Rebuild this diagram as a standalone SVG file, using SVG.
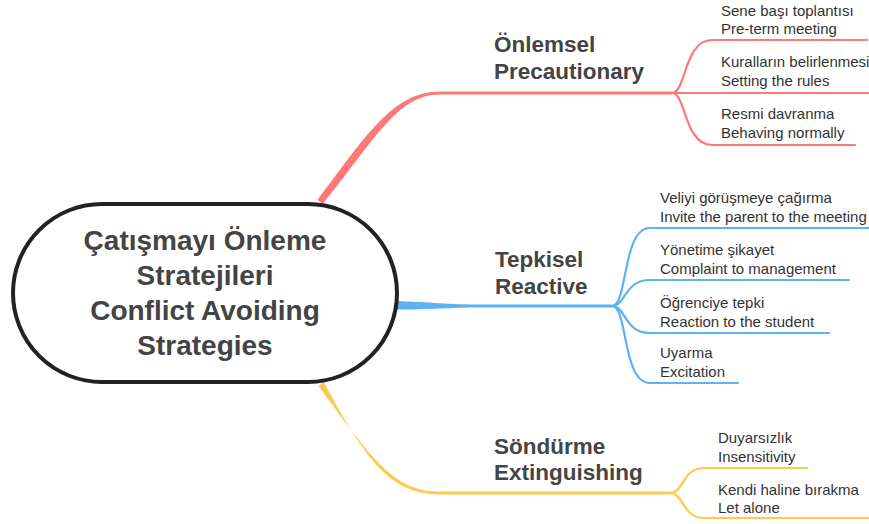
<svg xmlns="http://www.w3.org/2000/svg" width="869" height="524" viewBox="0 0 869 524">
<style>
.root{fill:#fff;stroke:#222;stroke-width:4}
.rt{font-family:"Liberation Sans",Arial,sans-serif;font-weight:bold;font-size:28px;fill:#444;text-anchor:middle}
.bt{font-family:"Liberation Sans",Arial,sans-serif;font-weight:bold;font-size:22.5px;fill:#444}
.st{font-family:"Liberation Sans",Arial,sans-serif;font-size:15px;fill:#333}
.sub{fill:none;stroke-width:2.2;stroke-linecap:round}
.red{stroke:#ff7777}
.blue{stroke:#5db3ef}
.yel{stroke:#ffc94d}
</style>
<rect width="869" height="524" fill="#fff"/>
<g id="connectors">
  <!-- main branches (tapered) -->
  <path d="M317.6,199.8 C366,136 393,91.5 440,91.5 L672,91.6 L672,94.4 L440,94.5 C397,94.5 374,141 322.6,204.2 Z" fill="#ff7777"/>
  <path d="M396,301 C430,302 450,304.6 480,304.6 L612,304.6 L612,307.4 L480,307.4 C450,307.4 430,309.5 396,309.5 Z" fill="#5db3ef"/>
  <path d="M318.6,386.2 C372,458 393,491.6 440,491.6 L670,491.6 L670,494.4 L440,494.4 C390,494.4 366,460 323.6,382 Z" fill="#ffc94d"/>
  <!-- red sub-branches -->
  <path class="sub red" d="M672,93 C686,93 684,40 712,40 L867,40"/>
  <path class="sub red" d="M672,93 L869,93"/>
  <path class="sub red" d="M672,93 C686,93 684,145 712,145 L855,145"/>
  <!-- blue sub-branches -->
  <path class="sub blue" d="M612,306 C628,306 622,228 650,228 L869,228"/>
  <path class="sub blue" d="M612,306 C626,306 624,280 650,280 L849,280"/>
  <path class="sub blue" d="M612,306 C626,306 624,333 650,333 L829,333"/>
  <path class="sub blue" d="M612,306 C628,306 622,383 650,383 L738,383"/>
  <!-- yellow sub-branches -->
  <path class="sub yel" d="M670,493 C684,493 682,468 704,468 L807,468"/>
  <path class="sub yel" d="M670,493 C684,493 682,518 704,518 L869,518"/>
</g>
<g id="root">
  <rect class="root" x="13" y="204" width="384" height="178" rx="89" ry="89"/>
  <text class="rt" x="205" y="250">Çatışmayı Önleme</text>
  <text class="rt" x="205" y="285">Stratejileri</text>
  <text class="rt" x="205" y="320">Conflict Avoiding</text>
  <text class="rt" x="205" y="355">Strategies</text>
</g>
<g id="precautionary">
  <text class="bt" x="494" y="52">Önlemsel</text>
  <text class="bt" x="494" y="79">Precautionary</text>
</g>
<g id="pre-term">
  <text class="st" x="721" y="15.5">Sene başı toplantısı</text>
  <text class="st" x="721" y="34">Pre-term meeting</text>
</g>
<g id="rules">
  <text class="st" x="721" y="67">Kuralların belirlenmesi</text>
  <text class="st" x="721" y="86">Setting the rules</text>
</g>
<g id="behaving">
  <text class="st" x="721" y="119">Resmi davranma</text>
  <text class="st" x="721" y="138">Behaving normally</text>
</g>
<g id="reactive">
  <text class="bt" x="495" y="266.5">Tepkisel</text>
  <text class="bt" x="495" y="293.5">Reactive</text>
</g>
<g id="invite">
  <text class="st" x="660" y="203">Veliyi görüşmeye çağırma</text>
  <text class="st" x="660" y="222">Invite the parent to the meeting</text>
</g>
<g id="complaint">
  <text class="st" x="660" y="255">Yönetime şikayet</text>
  <text class="st" x="660" y="274">Complaint to management</text>
</g>
<g id="reaction">
  <text class="st" x="660" y="307.5">Öğrenciye tepki</text>
  <text class="st" x="660" y="326.5">Reaction to the student</text>
</g>
<g id="excitation">
  <text class="st" x="660" y="358">Uyarma</text>
  <text class="st" x="660" y="377">Excitation</text>
</g>
<g id="extinguishing">
  <text class="bt" x="494" y="454">Söndürme</text>
  <text class="bt" x="494" y="480">Extinguishing</text>
</g>
<g id="insensitivity">
  <text class="st" x="718" y="442.5">Duyarsızlık</text>
  <text class="st" x="718" y="461.5">Insensitivity</text>
</g>
<g id="letalone">
  <text class="st" x="718" y="494.5">Kendi haline bırakma</text>
  <text class="st" x="718" y="513">Let alone</text>
</g>
</svg>
